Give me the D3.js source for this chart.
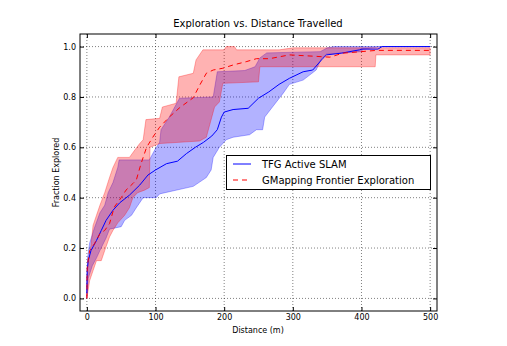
<!DOCTYPE html>
<html><head><meta charset="utf-8">
<script src="https://cdn.jsdelivr.net/npm/d3@7"></script>
<style>body{margin:0;background:#fff}svg{display:block}text{font-family:"DejaVu Sans",sans-serif}</style>
</head><body><svg id="c" width="507" height="346"></svg>
<script>
const xTicks=[0,100,200,300,400,500];
const yTicks=[0.0,0.2,0.4,0.6,0.8,1.0];
const seriesNames=["TFG Active SLAM","GMapping Frontier Exploration"];

const blueMean=[[0,0.02],[0.5,0.11],[2,0.15],[6,0.19],[14,0.23],[21,0.27],[28,0.31],[38,0.35],[48,0.38],[62,0.41],[77,0.45],[89,0.49],[100,0.51],[116,0.535],[132,0.545],[145,0.575],[158,0.60],[170,0.62],[182,0.645],[190,0.67],[196,0.72],[200,0.74],[213,0.75],[235,0.755],[250,0.795],[265,0.82],[280,0.85],[295,0.874],[315,0.90],[329,0.907],[344,0.954],[349,0.967],[371,0.974],[397,0.987],[400,0.99],[424,0.99],[430,1.0],[500,1.0]];
const blueUpper=[[0,0.05],[1,0.16],[4,0.22],[11,0.28],[19,0.34],[26,0.37],[31,0.42],[38,0.46],[45,0.52],[47,0.55],[91,0.55],[99,0.59],[106,0.62],[108,0.67],[120,0.72],[135,0.795],[184,0.80],[190,0.90],[230,0.905],[245,0.92],[252,0.955],[262,0.975],[340,0.98],[350,0.995],[360,1.0],[500,1.0]];
const blueLower=[[0,0.0],[2,0.08],[8,0.13],[14,0.16],[19,0.19],[28,0.24],[33,0.275],[50,0.285],[55,0.31],[65,0.33],[72,0.36],[82,0.40],[101,0.40],[106,0.415],[155,0.445],[174,0.48],[181,0.51],[184,0.56],[193,0.60],[203,0.63],[213,0.64],[237,0.65],[247,0.67],[256,0.67],[259,0.72],[276,0.78],[286,0.815],[295,0.85],[315,0.867],[334,0.907],[342,0.954],[349,0.97],[400,0.98],[402,0.99],[430,1.0],[500,1.0]];

const redMean=[[0,0.0],[0.5,0.125],[4,0.19],[11,0.217],[19,0.257],[26,0.27],[33,0.297],[40,0.363],[50,0.40],[57,0.43],[67,0.456],[72,0.47],[79,0.536],[87,0.60],[96,0.64],[106,0.68],[120,0.72],[135,0.757],[155,0.797],[164,0.845],[174,0.894],[184,0.907],[198,0.914],[213,0.927],[232,0.94],[247,0.952],[266,0.952],[295,0.967],[329,0.962],[354,0.958],[373,0.974],[422,0.985],[500,0.985]];
const redUpper=[[0,0.07],[2,0.15],[6,0.21],[9,0.29],[14,0.33],[19,0.37],[26,0.42],[33,0.48],[38,0.52],[45,0.56],[62,0.56],[70,0.59],[77,0.615],[82,0.63],[86,0.71],[106,0.715],[110,0.76],[130,0.775],[134,0.88],[155,0.894],[159,0.947],[169,0.987],[200,0.987],[203,1.0],[215,1.0],[218,0.987],[280,0.987],[300,0.995],[500,0.995]];
const redLower=[[0,0.0],[4,0.07],[9,0.11],[14,0.15],[21,0.15],[26,0.19],[33,0.244],[38,0.27],[45,0.30],[55,0.33],[62,0.36],[67,0.40],[74,0.42],[84,0.43],[91,0.44],[92,0.60],[106,0.615],[164,0.625],[174,0.64],[186,0.76],[193,0.78],[198,0.854],[250,0.86],[252,0.92],[420,0.92],[421,0.967],[500,0.967]];

const svg=d3.select("#c");
const x=d3.scaleLinear().domain([-10,510]).range([80,437]);
const y=d3.scaleLinear().domain([-0.05,1.05]).range([311,34]);
const L=80,R=437,T=34,B=311;

svg.append("defs").append("clipPath").attr("id","clip").append("rect").attr("x",L).attr("y",T).attr("width",R-L).attr("height",B-T);

// grid
const g=svg.append("g");
xTicks.forEach(t=>g.append("line").attr("x1",x(t)).attr("x2",x(t)).attr("y1",T).attr("y2",B).attr("stroke","#000").attr("stroke-width",0.5).attr("stroke-dasharray","1,2"));
yTicks.forEach(t=>g.append("line").attr("x1",L).attr("x2",R).attr("y1",y(t)).attr("y2",y(t)).attr("stroke","#000").attr("stroke-width",0.5).attr("stroke-dasharray","1,2"));

const line=d3.line().x(d=>x(d[0])).y(d=>y(d[1]));
const band=(up,lo)=>line(up.concat(lo.slice().reverse()))+"Z";
const plot=svg.append("g").attr("clip-path","url(#clip)");
plot.append("path").attr("d",band(blueUpper,blueLower)).attr("fill","#0000ff").attr("fill-opacity",0.3).attr("stroke","#0000ff").attr("stroke-opacity",0.3).attr("stroke-width",1);
plot.append("path").attr("d",band(redUpper,redLower)).attr("fill","#ff0000").attr("fill-opacity",0.3).attr("stroke","#ff0000").attr("stroke-opacity",0.3).attr("stroke-width",1);
plot.append("path").attr("d",line(blueMean)).attr("fill","none").attr("stroke","#0000ff").attr("stroke-width",1);
plot.append("path").attr("d",line(redMean)).attr("fill","none").attr("stroke","#ff0000").attr("stroke-width",1).attr("stroke-dasharray","5,4");

// frame
svg.append("rect").attr("x",L).attr("y",T).attr("width",R-L).attr("height",B-T).attr("fill","none").attr("stroke","#000").attr("stroke-width",1);

// axes via d3
const xa=d3.axisBottom(x).tickValues(xTicks).tickSize(-4).tickPadding(3).tickFormat(d3.format("d"));
const xg=svg.append("g").attr("transform",`translate(0,${B})`).call(xa);
const xt=svg.append("g").attr("transform",`translate(0,${T})`).call(d3.axisTop(x).tickValues(xTicks).tickSize(-4).tickFormat(""));
const ya=d3.axisLeft(y).tickValues(yTicks).tickSize(-4).tickPadding(4).tickFormat(d3.format(".1f"));
const yg=svg.append("g").attr("transform",`translate(${L},0)`).call(ya);
const yr=svg.append("g").attr("transform",`translate(${R},0)`).call(d3.axisRight(y).tickValues(yTicks).tickSize(-4).tickFormat(""));
[xg,xt,yg,yr].forEach(a=>{a.select(".domain").remove();a.selectAll("line").attr("stroke","#000");a.selectAll("text").attr("font-size",8).attr("font-family","DejaVu Sans").attr("fill","#000");});

svg.append("text").attr("x",258).attr("y",27).attr("text-anchor","middle").attr("font-size",10).text("Exploration vs. Distance Travelled");
svg.append("text").attr("x",258).attr("y",333).attr("text-anchor","middle").attr("font-size",8).text("Distance (m)");
svg.append("text").attr("transform",`translate(59,${(T+B)/2}) rotate(-90)`).attr("text-anchor","middle").attr("font-size",8).text("Fraction Explored");

// legend
const lg=svg.append("g");
lg.append("rect").attr("x",226.5).attr("y",155.5).attr("width",204).attr("height",34).attr("fill","#fff").attr("stroke","#000").attr("stroke-width",1);
const colors=["#0000ff","#ff0000"],dashes=[null,"5,4"];
seriesNames.forEach((n,i)=>{
  const yy=164+i*16;
  lg.append("line").attr("x1",233).attr("x2",251).attr("y1",yy).attr("y2",yy).attr("stroke",colors[i]).attr("stroke-width",1).attr("stroke-dasharray",dashes[i]);
  lg.append("text").attr("x",262).attr("y",yy+3.5).attr("font-size",10).text(n);
});
</script></body></html>
